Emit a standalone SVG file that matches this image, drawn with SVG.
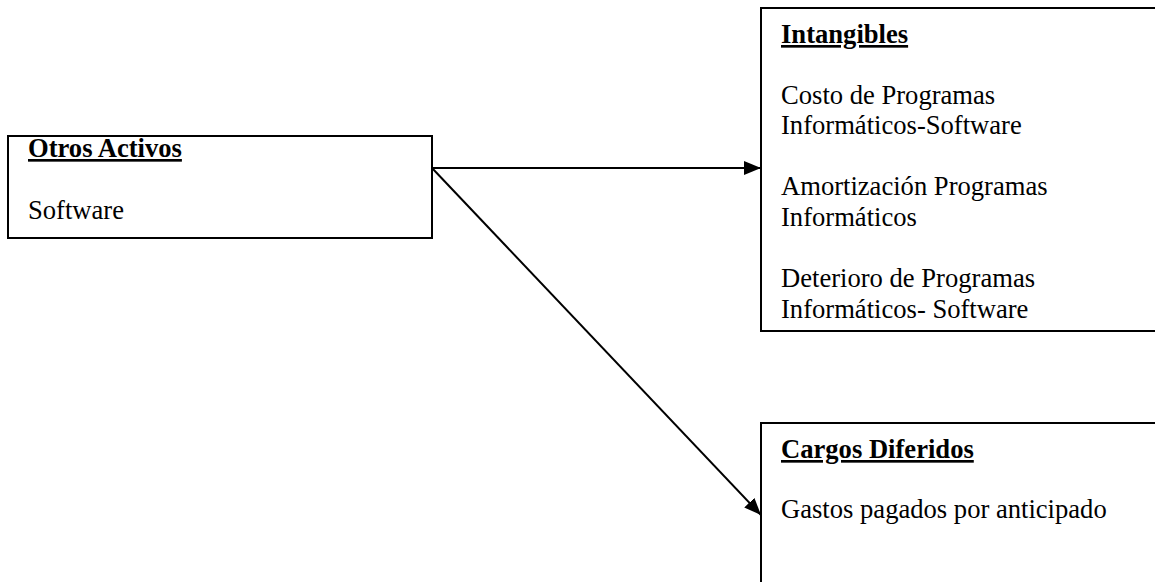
<svg xmlns="http://www.w3.org/2000/svg" width="1155" height="582" viewBox="0 0 1155 582">
<style>
.box{fill:#fff;stroke:#000;stroke-width:2}
.t{font-family:"Liberation Serif","Times New Roman",serif;font-size:26.6px;fill:#000}
.h{font-weight:bold;text-decoration:underline}
.c{stroke:#000;stroke-width:2;fill:none}
</style>
<defs>
<marker id="ah2" markerWidth="17" markerHeight="14" refX="17" refY="7" orient="auto" markerUnits="userSpaceOnUse" viewBox="0 0 17 14">
<path d="M0,0 L17,7 L0,14 Z" fill="#000"/>
</marker>
</defs>
<g id="connectors">
<line class="c" x1="432" y1="168" x2="761" y2="168" marker-end="url(#ah2)"/>
<line class="c" x1="432" y1="168" x2="761" y2="515" marker-end="url(#ah2)"/>
</g>
<g id="otros-activos">
<rect class="box" x="8" y="136" width="424" height="102"/>
<text class="t h" x="28" y="157">Otros Activos</text>
<text class="t" x="28" y="219">Software</text>
</g>
<g id="intangibles">
<rect class="box" x="761" y="8" width="420" height="323"/>
<text class="t h" x="781" y="43">Intangibles</text>
<text class="t" x="781" y="104">Costo de Programas</text>
<text class="t" x="781" y="134">Informáticos-Software</text>
<text class="t" x="781" y="195">Amortización Programas</text>
<text class="t" x="781" y="226">Informáticos</text>
<text class="t" x="781" y="287">Deterioro de Programas</text>
<text class="t" x="781" y="318">Informáticos- Software</text>
</g>
<g id="cargos-diferidos">
<rect class="box" x="761" y="423" width="420" height="200"/>
<text class="t h" x="781" y="458">Cargos Diferidos</text>
<text class="t" x="781" y="518">Gastos pagados por anticipado</text>
</g>
</svg>
